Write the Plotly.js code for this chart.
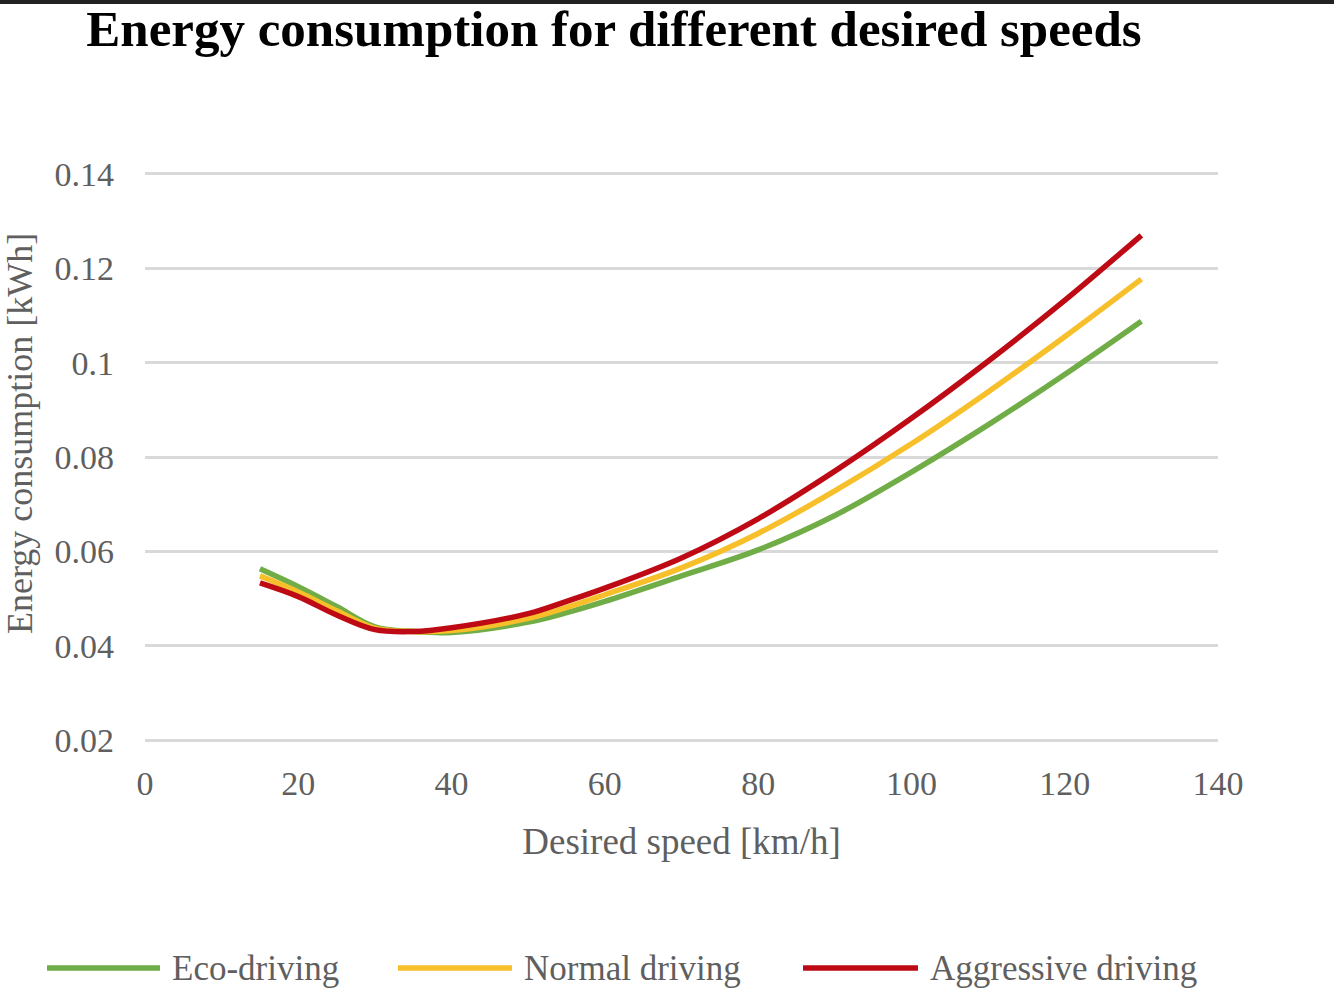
<!DOCTYPE html>
<html>
<head>
<meta charset="utf-8">
<script src="https://cdn.plot.ly/plotly-3.0.1.min.js"></script>
<style>
  body { margin: 0; background: #fff; }
  #chart { width: 1334px; height: 988px; }
</style>
</head>
<body>
<div id="chart"></div>
<script>
// desired speed [km/h]
const speeds = [15, 20, 25, 30, 35, 40, 50, 55, 60, 70, 80, 90, 100, 110, 120, 130];

// energy consumption [kWh]
const ecoDriving = [0.0563, 0.0525, 0.0483, 0.0440, 0.0430, 0.0428, 0.0450, 0.0470, 0.0494,
                    0.0548, 0.0603, 0.0676, 0.0768, 0.0868, 0.0975, 0.1088];
const normalDriving = [0.0548, 0.0514, 0.0474, 0.0437, 0.0430, 0.0432, 0.0458, 0.0481, 0.0508,
                       0.0565, 0.0638, 0.0728, 0.0828, 0.0938, 0.1055, 0.1177];
const aggressiveDriving = [0.0533, 0.0504, 0.0465, 0.0434, 0.0430, 0.0438, 0.0468, 0.0494, 0.0522,
                           0.0586, 0.0669, 0.0770, 0.0882, 0.1003, 0.1132, 0.1270];

const seriesNames = ['Eco-driving', 'Normal driving', 'Aggressive driving'];
const seriesColors = ['#70AD47', '#F7BF2A', '#BE0A14'];

const yTicks = [0.02, 0.04, 0.06, 0.08, 0.1, 0.12, 0.14];
const xTicks = [0, 20, 40, 60, 80, 100, 120, 140];

const W = 1334, H = 988;
// y range padded a hair so the 0.02 / 0.14 grid lines are drawn
const M = {l: 145, r: 116, t: 172, b: 246};
const plotW = W - M.l - M.r, plotH = H - M.t - M.b;
// page pixel -> paper coords (for legend / decorations only)
const px = x => (x - M.l) / plotW;
const py = y => (H - M.b - y) / plotH;

const serif = 'Liberation Serif, Times New Roman, serif';
const grey = '#5f5f5f';

const values = [ecoDriving, normalDriving, aggressiveDriving];
const traces = values.map((v, i) => ({
    x: speeds,
    y: v,
    name: seriesNames[i],
    type: 'scatter',
    mode: 'lines',
    line: {color: seriesColors[i], width: 5.5, shape: 'spline', smoothing: 1},
    hoverinfo: 'x+y+name'
}));

// hand-made legend: long line samples like the original
const legendLineX = [[47, 160], [398, 512], [803, 918]];
const legendY = 968;
const shapes = [{
    type: 'rect', xref: 'paper', yref: 'paper',
    x0: px(0), x1: px(W), y0: py(4), y1: py(-2),
    fillcolor: '#222', line: {width: 0}
}];
const annotations = [{
    text: 'Energy consumption [kWh]',
    xref: 'paper', yref: 'paper', x: px(20), y: py(434),
    xanchor: 'center', yanchor: 'middle', textangle: -90,
    showarrow: false, font: {family: serif, size: 36, color: grey}
}];
legendLineX.forEach((lx, i) => {
    shapes.push({
        type: 'line', xref: 'paper', yref: 'paper',
        x0: px(lx[0]), x1: px(lx[1]), y0: py(legendY), y1: py(legendY),
        line: {color: seriesColors[i], width: 5.5}
    });
    annotations.push({
        text: seriesNames[i],
        xref: 'paper', yref: 'paper', x: px(lx[1] + 10), y: py(legendY),
        xanchor: 'left', yanchor: 'middle', showarrow: false,
        font: {family: serif, size: 35, color: grey}
    });
});

const layout = {
    width: W, height: H, autosize: false,
    margin: M,
    paper_bgcolor: '#fff', plot_bgcolor: '#fff',
    showlegend: false,
    title: {
        text: '<b>Energy consumption for different desired speeds</b>',
        font: {family: serif, size: 51, color: '#000'},
        xref: 'container', yref: 'container',
        x: 614 / W, xanchor: 'center',
        y: 1 - 28 / H, yanchor: 'middle'
    },
    xaxis: {
        range: [0, 140],
        tickvals: xTicks,
        ticktext: xTicks.map(String),
        showgrid: false, zeroline: false, showline: false,
        ticks: '', ticklabelstandoff: 18,
        tickfont: {family: serif, size: 34, color: grey},
        title: {text: 'Desired speed [km/h]', standoff: 27,
                font: {family: serif, size: 37, color: grey}}
    },
    yaxis: {
        range: [0.01958, 0.14042],
        tickvals: yTicks,
        ticktext: yTicks.map(String),
        showgrid: true, gridcolor: '#D9D9D9', gridwidth: 3,
        zeroline: false, showline: false,
        ticks: '', ticklabelstandoff: 30,
        tickfont: {family: serif, size: 34, color: grey}
    },
    shapes: shapes,
    annotations: annotations
};

Plotly.newPlot('chart', traces, layout, {displayModeBar: false, staticPlot: true});
</script>
</body>
</html>
